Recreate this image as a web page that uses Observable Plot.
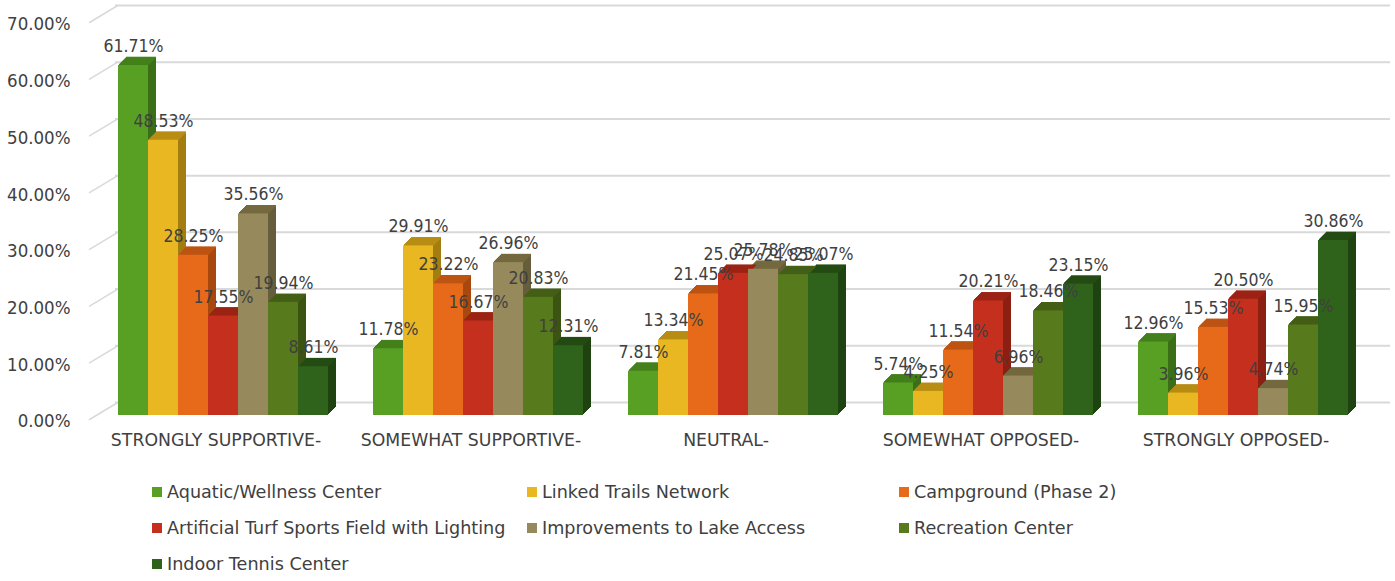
<!DOCTYPE html>
<html>
<head>
<meta charset="utf-8">
<script src="https://cdn.jsdelivr.net/npm/d3@7"></script>
<script src="https://cdn.jsdelivr.net/npm/@observablehq/plot@0.6"></script>
<style>
  html, body { margin: 0; padding: 0; background: #fff; }
  body { width: 1395px; height: 581px; overflow: hidden; font-family: "DejaVu Sans", sans-serif; color: #404040; }
  #legend { display: grid; grid-template-columns: 375px 372px auto; grid-auto-rows: 36px; margin-left: 152px; padding-top: 4px; font-size: 17.6px; }
  .item { display: flex; align-items: center; white-space: nowrap; }
  .sw { width: 10px; height: 10px; margin-right: 5px; flex: none; }
</style>
</head>
<body>
<div id="chart"></div>
<div id="legend"></div>
<script>
const groups = ["STRONGLY SUPPORTIVE", "SOMEWHAT SUPPORTIVE", "NEUTRAL", "SOMEWHAT OPPOSED", "STRONGLY OPPOSED"];
const series = ["Aquatic/Wellness Center", "Linked Trails Network", "Campground (Phase 2)", "Artificial Turf Sports Field with Lighting", "Improvements to Lake Access", "Recreation Center", "Indoor Tennis Center"];
const aquatic    = [61.71, 11.78, 7.81, 5.74, 12.96];
const trails     = [48.53, 29.91, 13.34, 4.25, 3.96];
const campground = [28.25, 23.22, 21.45, 11.54, 15.53];
const turf       = [17.55, 16.67, 25.07, 20.21, 20.50];
const lake       = [35.56, 26.96, 25.78, 6.96, 4.74];
const recreation = [19.94, 20.83, 24.85, 18.46, 15.95];
const tennis     = [8.61, 12.31, 25.07, 23.15, 30.86];
const yTicks = [0, 10, 20, 30, 40, 50, 60, 70];

const frontColors = ["#57a024", "#e8b722", "#e76a1a", "#c52f1e", "#968a5c", "#577a1c", "#2f631b"];
const sideColors  = ["#3a6e17", "#a47d10", "#a8480e", "#8a1f12", "#665d3c", "#3b5412", "#1e4210"];
const topColors   = ["#44801b", "#b88d14", "#bd5412", "#9c2415", "#74693f", "#445f16", "#244b13"];

const valuesBySeries = [aquatic, trails, campground, turf, lake, recreation, tennis];
const data = [];
series.forEach((s, i) => groups.forEach((g, j) => data.push({group: g, series: s, value: valuesBySeries[i][j], i})));

const condensed = "'DejaVu Sans Condensed', 'DejaVu Sans', sans-serif";
const depth = 8;
const sideMarks = d3.range(depth, 0, -1).map(k =>
  Plot.barY(data, {fx: "group", x: "series", y: "value", fill: d => sideColors[d.i], dx: k, dy: -k}));
const topMarks = d3.range(1, depth + 1).map(k =>
  Plot.tickY(data, {fx: "group", x: "series", y: "value", stroke: d => topColors[d.i], strokeWidth: 1.6, dx: k, dy: -k}));

const chart = Plot.plot({
  width: 1395,
  height: 470,
  marginLeft: 94,
  marginRight: 25,
  marginTop: 18,
  marginBottom: 55,
  style: {fontFamily: "'DejaVu Sans', sans-serif", fontSize: "17px", color: "#404040", background: "#fff"},
  fx: {domain: groups, padding: 0, axis: null, label: null},
  x: {domain: series, paddingInner: 0, paddingOuter: 0.7, axis: null},
  y: {domain: [0, 70], axis: null},
  color: {type: "identity"},
  marks: [
    Plot.ruleY(yTicks, {stroke: "#d9d9d9", strokeWidth: 2, dx: 20, dy: -13}),
    Plot.vector(yTicks, {fx: () => groups[0], y: d => d, frameAnchor: "left", dx: -6, dy: 4, length: 33, rotate: 59, anchor: "start", r: 0, stroke: "#d9d9d9", strokeWidth: 1.5}),
    Plot.text(yTicks, {fx: () => groups[0], y: d => d, frameAnchor: "left", textAnchor: "end", dx: -25, dy: 6, text: d => d.toFixed(2) + "%", fill: "#404040", fontSize: 18.5, fontFamily: condensed}),
    ...sideMarks,
    ...topMarks,
    Plot.barY(data, {fx: "group", x: "series", y: "value", fill: d => frontColors[d.i]}),
    Plot.text(data, {fx: "group", x: "series", y: "value", text: d => d.value.toFixed(2) + "%", dy: -19, fill: "#404040", fontSize: 17.5, fontFamily: condensed}),
    Plot.text(groups, {fx: d => d, frameAnchor: "bottom", text: d => d + "-", dy: 30, dx: -7, fill: "#404040", fontSize: 17.3})
  ]
});
document.getElementById("chart").appendChild(chart);

const legend = document.getElementById("legend");
series.forEach((s, i) => {
  const item = document.createElement("div");
  item.className = "item";
  const sw = document.createElement("span");
  sw.className = "sw";
  sw.style.background = frontColors[i];
  const t = document.createElement("span");
  t.textContent = s;
  item.appendChild(sw);
  item.appendChild(t);
  legend.appendChild(item);
});
</script>
</body>
</html>
